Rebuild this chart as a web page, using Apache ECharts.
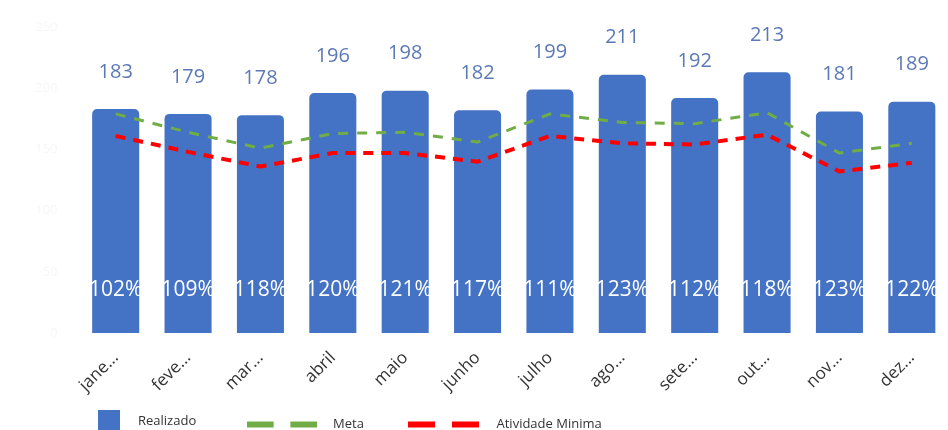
<!DOCTYPE html>
<html>
<head>
<meta charset="utf-8">
<script src="https://cdn.jsdelivr.net/npm/echarts@6/dist/echarts.min.js"></script>
<style>
html,body{margin:0;padding:0;background:#fff;}
#c{width:948px;height:430px;}
</style>
</head>
<body>
<div id="c"></div>
<script>
const categories = ['jane...', 'feve...', 'mar...', 'abril', 'maio', 'junho', 'julho', 'ago...', 'sete...', 'out...', 'nov...', 'dez...'];
const realizado = [183, 179, 178, 196, 198, 182, 199, 211, 192, 213, 181, 189];
const meta = [179, 164, 151, 163, 164, 156, 179, 172, 171, 180, 147, 155];
const atividadeMinima = [161, 148, 136, 147, 147, 140, 161, 155, 154, 162, 132, 139];
const percentLabels = ['102%', '109%', '118%', '120%', '121%', '117%', '111%', '123%', '112%', '118%', '123%', '122%'];

const font = '"Open Sans", "Noto Sans", sans-serif';
const dashIcon = 'path://M0,0H27V6H0Z M44,0H71V6H44Z';

const chart = echarts.init(document.getElementById('c'));
chart.setOption({
  animation: false,
  textStyle: { fontFamily: font },
  grid: { left: 79.5, right: -10, top: 27, bottom: 97, containLabel: false },
  legend: [
    { data: ['Realizado'], left: 98, top: 410, padding: 0, itemWidth: 22, itemHeight: 22, icon: 'rect',
      textStyle: { fontSize: 13, color: '#333', fontFamily: font, padding: [0, 0, 0, 13] } },
    { data: [{ name: 'Meta', icon: dashIcon }], left: 247, top: 418, padding: 0, itemWidth: 70, itemHeight: 6,
      textStyle: { fontSize: 13, color: '#333', fontFamily: font, padding: [0, 0, 0, 11] } },
    { data: [{ name: 'Atividade Minima', icon: dashIcon }], left: 408, top: 418, padding: 0, itemWidth: 72, itemHeight: 6,
      textStyle: { fontSize: 13, color: '#333', fontFamily: font, padding: [0, 0, 0, 12] } }
  ],
  xAxis: {
    type: 'category',
    data: categories,
    axisLine: { show: false },
    axisTick: { show: false },
    axisLabel: { rotate: 45, fontSize: 17, color: '#333', margin: 22, fontFamily: font, interval: 0 }
  },
  yAxis: {
    type: 'value',
    min: 0, max: 250, interval: 50,
    splitLine: { show: false },
    axisLine: { show: false },
    axisTick: { show: false },
    axisLabel: { color: '#f7f7f7', fontSize: 13, margin: 22, fontFamily: font }
  },
  series: [
    {
      name: 'Realizado', type: 'bar', data: realizado, barWidth: '65%',
      itemStyle: { color: '#4472C4', borderRadius: [5, 5, 0, 0] },
      label: { show: true, position: 'top', distance: 27, fontSize: 20, color: '#5b79b5', fontFamily: font },
      z: 2
    },
    {
      name: 'pct', type: 'bar', data: realizado, barWidth: '65%', barGap: '-100%',
      itemStyle: { color: 'transparent' },
      label: { show: true, position: 'insideBottom', distance: 32, fontSize: 21, color: '#ffffff', fontFamily: font,
        formatter: p => percentLabels[p.dataIndex] },
      z: 3, silent: true
    },
    {
      name: 'Meta', type: 'line', data: meta, symbol: 'none',
      lineStyle: { color: '#70AD47', width: 3, type: [10, 9] },
      itemStyle: { color: '#70AD47' }, z: 4
    },
    {
      name: 'Atividade Minima', type: 'line', data: atividadeMinima, symbol: 'none',
      lineStyle: { color: '#FF0000', width: 4, type: [10, 8] },
      itemStyle: { color: '#FF0000' }, z: 4
    }
  ]
});
</script>
</body>
</html>
